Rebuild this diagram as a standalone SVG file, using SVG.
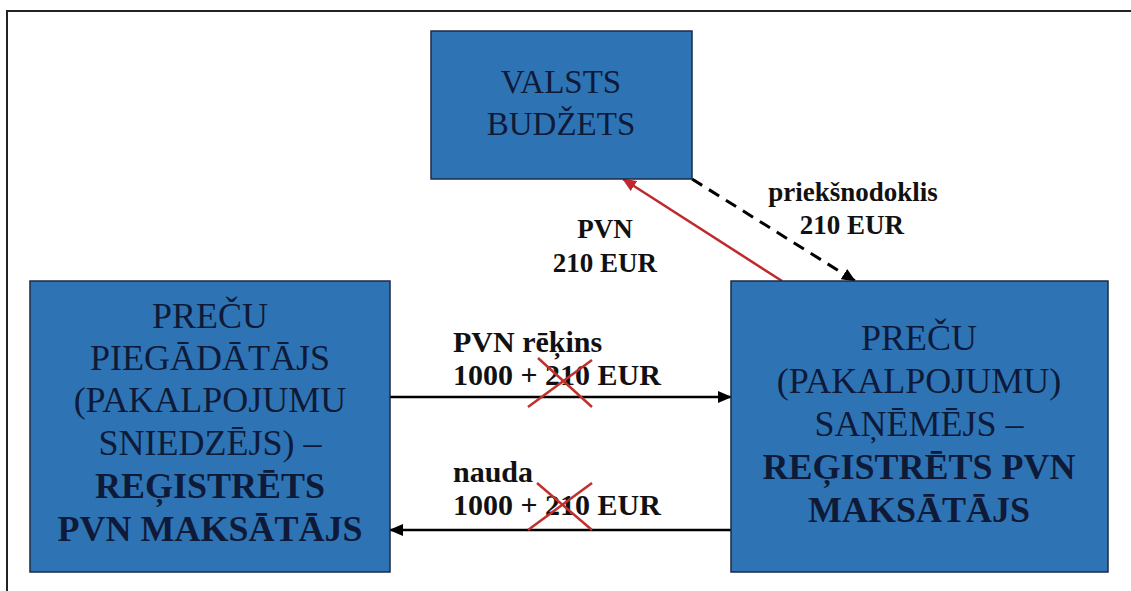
<svg xmlns="http://www.w3.org/2000/svg" width="1131" height="591" viewBox="0 0 1131 591">
<style>
.box{fill:#2e74b5;stroke:#1b2a48;stroke-width:1.5}
.bt{fill:#0e1a38;text-anchor:middle}
.b{font-weight:bold}
.lbl{font-weight:bold;fill:#111}
.con{stroke:#000;stroke-width:2.5;fill:none}
.x{stroke:#c0302c;stroke-width:2.5}
</style>
<defs>
<marker id="ah" markerUnits="userSpaceOnUse" markerWidth="14" markerHeight="12" refX="13" refY="6" orient="auto">
<path d="M0,0 L14,6 L0,12 Z" fill="#000"/>
</marker>
<marker id="ahr" markerUnits="userSpaceOnUse" markerWidth="14" markerHeight="12" refX="13" refY="6" orient="auto">
<path d="M0,0 L14,6 L0,12 Z" fill="#c0282d"/>
</marker>
</defs>
<rect width="1131" height="591" fill="#fff"/>
<path d="M7,591 L7,11 L1131,11" fill="none" stroke="#222" stroke-width="2"/>

<g font-family="Liberation Serif, DejaVu Serif, serif">
<g id="connectors">
<line class="con" x1="390" y1="397" x2="731" y2="397" marker-end="url(#ah)"/>
<line class="con" x1="731" y1="530" x2="390" y2="530" marker-end="url(#ah)"/>
<line x1="782" y1="281" x2="623" y2="179" stroke="#c0282d" stroke-width="2.5" marker-end="url(#ahr)"/>
<line x1="692" y1="179" x2="855" y2="281" stroke="#000" stroke-width="3" stroke-dasharray="12,8" marker-end="url(#ah)"/>
<text class="lbl" x="453" y="352" font-size="30">PVN rēķins</text>
<text class="lbl" x="453" y="385" font-size="30">1000 + 210 EUR</text>
<text class="lbl" x="453" y="482" font-size="30">nauda</text>
<text class="lbl" x="453" y="515" font-size="30">1000 + 210 EUR</text>
<text class="lbl" x="605" y="238" font-size="27" text-anchor="middle">PVN</text>
<text class="lbl" x="605" y="272" font-size="27" text-anchor="middle">210 EUR</text>
<text class="lbl" x="853" y="201" font-size="27" text-anchor="middle">priekšnodoklis</text>
<text class="lbl" x="852" y="234" font-size="27" text-anchor="middle">210 EUR</text>
<line class="x" x1="538" y1="358" x2="592" y2="407"/>
<line class="x" x1="592" y1="360" x2="528" y2="407"/>
<line class="x" x1="537" y1="483" x2="592" y2="530"/>
<line class="x" x1="592" y1="483" x2="528" y2="530"/>
</g>

<g id="node-budzets">
<rect class="box" x="431" y="31" width="261" height="148"/>
<text class="bt" x="561" y="93" font-size="33">VALSTS</text>
<text class="bt" x="561" y="135" font-size="33">BUDŽETS</text>
</g>

<g id="node-piegadatajs">
<rect class="box" x="30" y="281" width="360" height="291"/>
<text class="bt" x="210" y="328" font-size="36">PREČU</text>
<text class="bt" x="210" y="370" font-size="36">PIEGĀDĀTĀJS</text>
<text class="bt" x="210" y="412" font-size="36">(PAKALPOJUMU</text>
<text class="bt" x="210" y="455" font-size="36">SNIEDZĒJS) –</text>
<text class="bt b" x="210" y="498" font-size="36">REĢISTRĒTS</text>
<text class="bt b" x="210" y="541" font-size="36">PVN MAKSĀTĀJS</text>
</g>

<g id="node-sanemejs">
<rect class="box" x="731" y="281" width="377" height="291"/>
<text class="bt" x="919" y="350" font-size="36">PREČU</text>
<text class="bt" x="919" y="393" font-size="36">(PAKALPOJUMU)</text>
<text class="bt" x="919" y="436" font-size="36">SAŅĒMĒJS –</text>
<text class="bt b" x="919" y="479" font-size="36">REĢISTRĒTS PVN</text>
<text class="bt b" x="919" y="522" font-size="36">MAKSĀTĀJS</text>
</g>
</g>
</svg>
